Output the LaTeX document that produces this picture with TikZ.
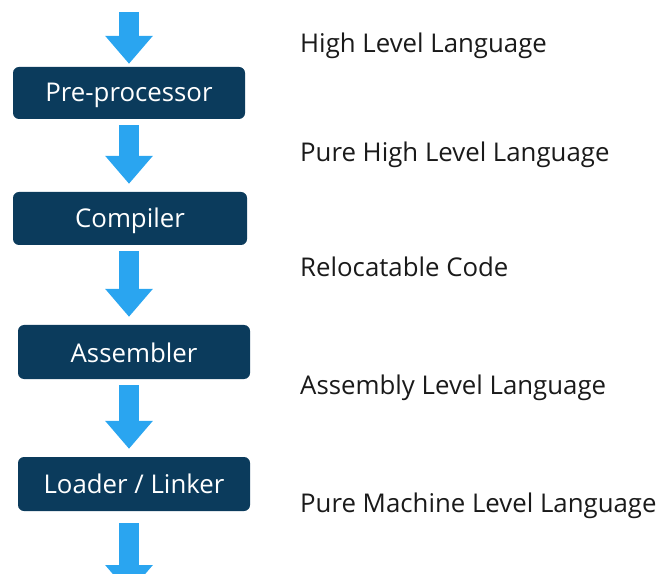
\documentclass[tikz,border=0pt]{standalone}
\usepackage{fontspec}
\setmainfont{Open Sans}
\usetikzlibrary{arrows.meta}
\definecolor{boxnavy}{HTML}{0B3B5C}
\definecolor{arrowblue}{HTML}{2AA5F0}
\definecolor{labelink}{HTML}{1A1A1A}
\begin{document}
\begin{tikzpicture}[x=1pt,y=1pt,
  stagebox/.style={fill=boxnavy, rounded corners=6pt, inner sep=0pt},
  boxtext/.style={anchor=base, text=white, inner sep=0pt,
    font=\fontsize{25.8}{30}\selectfont},
  flowarrow/.style={draw=arrowblue, line width=20pt,
    -{Triangle[width=46pt,length=28pt]}, shorten <=6pt, shorten >=8pt},
  stagelabel/.style={anchor=base west, text=labelink, inner sep=0pt,
    font=\fontsize{25.8}{30}\selectfont}]
\useasboundingbox (0,0) rectangle (660,573);
\clip (0,0) rectangle (660,573);
% boxes (y_tikz = 573 - y_px)
\node[stagebox, minimum width=232pt, minimum height=52pt] (pre) at (129,480) {};
\node[stagebox, minimum width=234pt, minimum height=53pt] (comp) at (130,354.5) {};
\node[stagebox, minimum width=232pt, minimum height=54pt] (asm) at (134,221) {};
\node[stagebox, minimum width=232pt, minimum height=54pt] (load) at (134,89) {};
% box texts
\node[boxtext] (pret) at (129,471) {Pre-processor};
\node[boxtext] (compt) at (130,345) {Compiler};
\node[boxtext] (asmt) at (134,211) {Assembler};
\node[boxtext] (loadt) at (134,80) {Loader / Linker};
% arrow column
\coordinate (ax) at (129,0);
\coordinate (topin) at (129,561);
\coordinate (botout) at (129,-20);
\draw[flowarrow, shorten <=0pt, shorten >=3pt] (topin) -- (pre.north -| ax);
\draw[flowarrow] (pre.south -| ax) -- (comp.north -| ax);
\draw[flowarrow] (comp.south -| ax) -- (asm.north -| ax);
\draw[flowarrow] (asm.south -| ax) -- (load.north -| ax);
\draw[flowarrow, shorten <=12pt, shorten >=0pt] (load.south -| ax) -- (botout);
% labels
\node[stagelabel] (l1) at (300,520) {High Level Language};
\node[stagelabel] (l2) at (300,411) {Pure High Level Language};
\node[stagelabel] (l3) at (300,296) {Relocatable Code};
\node[stagelabel] (l4) at (300,179) {Assembly Level Language};
\node[stagelabel] (l5) at (300,61) {Pure Machine Level Language};
\end{tikzpicture}
\end{document}
